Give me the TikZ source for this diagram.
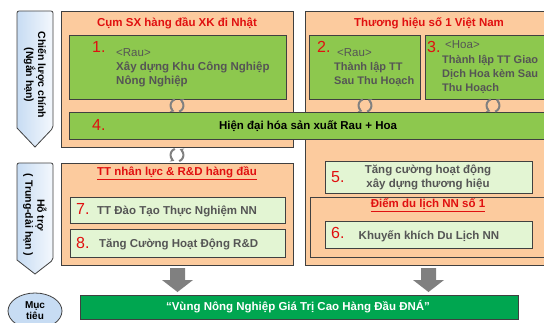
\documentclass[tikz,border=0pt]{standalone}
\usepackage{fontspec}
\setmainfont{Liberation Sans}
\usetikzlibrary{arrows.meta,shapes.geometric}
\definecolor{peach}{HTML}{FCCB9E}
\definecolor{lgreen}{HTML}{8DC84E}
\definecolor{pgreen}{HTML}{E3F5D3}
\definecolor{dgreen}{HTML}{00A650}
\definecolor{tred}{HTML}{E01010}
\definecolor{tgray}{HTML}{555555}
\definecolor{edge}{HTML}{404040}
\definecolor{bannerA}{HTML}{C7DCF3}
\definecolor{bannerB}{HTML}{F4F8FD}
\definecolor{agray}{HTML}{808080}
\tikzset{
  panel/.style={draw=edge, line width=0.8pt, fill=peach},
  gbox/.style={draw=edge, line width=0.8pt, fill=lgreen},
  pbox/.style={draw=edge, line width=0.8pt, fill=pgreen},
  ttl/.style={text=tred, font=\bfseries\fontsize{11.5}{13}\selectfont},
  num/.style={text=tred, font=\fontsize{16}{16}\selectfont, anchor=west, inner sep=0pt},
  gtxt/.style={text=tgray, font=\bfseries\fontsize{11.5}{14}\selectfont, align=left, anchor=west, inner sep=0pt},
  ctxt/.style={text=tgray, font=\bfseries\fontsize{11.5}{14}\selectfont, align=center, inner sep=0pt},
  rtxt/.style={text=tgray, font=\fontsize{11.5}{14}\selectfont, anchor=west, inner sep=0pt},
  banner/.style={draw=edge, line width=0.8pt, left color=bannerA, right color=bannerB},
  btxt/.style={font=\bfseries\fontsize{10.5}{12}\selectfont, align=center, rotate=-90, inner sep=0pt},
  garrow/.style={fill=agray, draw=none},
  cyc/.style={draw=agray, line width=2pt, -{Stealth[length=4pt,width=5pt]}}
}
\newcommand{\cycleicon}[2]{%
  \draw[cyc] (#1-2.2,#2-6.1) arc[start angle=-110, end angle=-245, radius=6.5];
  \draw[cyc] (#1+2.2,#2+6.1) arc[start angle=70, end angle=-65, radius=6.5];
}
\begin{document}
\begin{tikzpicture}[x=1pt,y=-1pt]
\useasboundingbox (0,0) rectangle (544,322);
\clip (0,0) rectangle (544,322);
\fill[white] (0,0) rectangle (544,322);

% banners
\draw[banner, rounded corners=2pt] (17,128) -- (17,11) -- (53,11) -- (53,128) [sharp corners] -- (35,147) -- cycle;
\node[btxt] (b1) at (35,75) {Chiến lược chính\\(Ngắn hạn)};
\draw[banner, rounded corners=2pt] (17,260) -- (17,163) -- (53,163) -- (53,260) [sharp corners] -- (35,274) -- cycle;
\node[btxt] (b2) at (35,215) {Hỗ trợ\\( Trung-dài hạn )};

% upper panels
\draw[panel] (61,11) rectangle (293,147);
\node[ttl] (t1) at (177,23) {Cụm SX hàng đầu XK đi Nhật};
\draw[panel] (305,11) rectangle (560,265);
\node[ttl] (t2) at (429,23) {Thương hiệu số 1 Việt Nam};

% box 1
\draw[gbox] (69,35) rectangle (286,99);
\node[num] (n1) at (92,47) {1.};
\node[rtxt] (r1) at (116,53) {<Rau>};
\node[gtxt] (x1) at (116,74) {Xây dựng Khu Công Nghiệp\\Nông Nghiệp};

% box 2
\draw[gbox] (309,35) rectangle (420,99);
\node[num] (n2) at (317,47) {2.};
\node[rtxt] (r2) at (337,53) {<Rau>};
\node[gtxt, font=\bfseries\fontsize{11}{14}\selectfont] (x2) at (334,74) {Thành lập TT\\Sau Thu Hoạch};

% box 3
\draw[gbox] (425,35) rectangle (560,99);
\node[num] (n3) at (427,47) {3.};
\node[rtxt] (r3) at (445,45) {<Hoa>};
\node[gtxt, font=\bfseries\fontsize{11}{14}\selectfont] (x3) at (442,74) {Thành lập TT Giao\\Dịch Hoa kèm Sau\\Thu Hoạch};

% box 4
\draw[gbox] (69,112) rectangle (560,139);
\node[num] (n4) at (92,125) {4.};
\node[font=\bfseries\fontsize{11.5}{13}\selectfont, inner sep=0pt] (x4) at (308,126) {Hiện đại hóa sản xuất Rau + Hoa};

% cycle icons
\cycleicon{177}{105.5}
\cycleicon{365}{105.5}
\cycleicon{493}{105.5}
\cycleicon{177}{155}

% lower left panel
\draw[panel] (61,163) rectangle (293,265);
\node[ttl] (t3) at (177,173) {\underline{TT nhân lực \& R\&D hàng đầu}};
\draw[pbox] (70,197) rectangle (285,223);
\node[num] (n7) at (76,209) {7.};
\node[gtxt] (x7) at (97,211) {TT Đào Tạo Thực Nghiệm NN};
\draw[pbox] (70,229) rectangle (285,257);
\node[num] (n8) at (76,243) {8.};
\node[gtxt] (x8) at (99,244) {Tăng Cường Hoạt Động R\&D};

% right lower
\draw[pbox] (325,161) rectangle (532,193);
\node[num] (n5) at (331,177) {5.};
\node[ctxt] (x5) at (428,177) {Tăng cường hoạt động\\xây dựng thương hiệu};
\draw[panel] (310,197) rectangle (560,257);
\node[ttl] (t4) at (428,205) {\underline{Điểm du lịch NN số 1}};
\draw[pbox] (325,221) rectangle (532,248);
\node[num] (n6) at (331,233) {6.};
\node[ctxt] (x6) at (429,236) {Khuyến khích Du Lịch NN};

% down arrows
\fill[garrow] (170,268) -- (185,268) -- (185,280) -- (193,280) -- (177.5,292) -- (162,280) -- (170,280) -- cycle;
\fill[garrow] (421,268) -- (436,268) -- (436,280) -- (444,280) -- (428.5,292) -- (413,280) -- (421,280) -- cycle;

% goal
\node[ellipse, draw=edge, line width=0.8pt, fill=bannerA, minimum width=54pt, minimum height=36pt, inner sep=0pt, font=\bfseries\fontsize{10}{11}\selectfont, align=center] (goal) at (35,311) {Mục\\tiêu};
\draw[draw=edge, line width=0.8pt, fill=dgreen] (80,295) rectangle (518,319);
\node[text=white, font=\bfseries\fontsize{11.5}{13}\selectfont, inner sep=0pt] (gt) at (298,307) {“Vùng Nông Nghiệp Giá Trị Cao Hàng Đầu ĐNÁ"};
\end{tikzpicture}
\end{document}
